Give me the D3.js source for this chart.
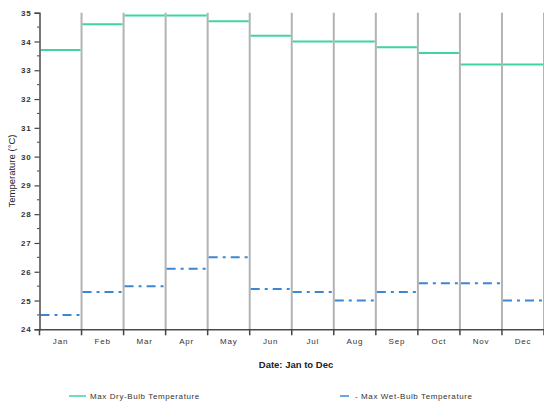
<!DOCTYPE html>
<html>
<head>
<meta charset="utf-8">
<script src="https://cdn.jsdelivr.net/npm/d3@7"></script>
<style>
  html, body { margin: 0; padding: 0; background: #fff; }
  svg { display: block; font-family: "Liberation Sans", Arial, sans-serif; }
</style>
</head>
<body>
<svg id="chart" width="544" height="403"></svg>
<script>
// Monthly maximum temperatures (°C)
const months = ["Jan", "Feb", "Mar", "Apr", "May", "Jun", "Jul", "Aug", "Sep", "Oct", "Nov", "Dec"];
const maxDryBulb = [33.7, 34.6, 34.9, 34.9, 34.7, 34.2, 34.0, 34.0, 33.8, 33.6, 33.2, 33.2];
const maxWetBulb = [24.5, 25.3, 25.5, 26.1, 26.5, 25.4, 25.3, 25.0, 25.3, 25.6, 25.6, 25.0];
const yTicks = [24, 25, 26, 27, 28, 29, 30, 31, 32, 33, 34, 35];
const seriesNames = ["Max Dry-Bulb Temperature", "- Max Wet-Bulb Temperature"];

const svg = d3.select("#chart");
const plotLeft = 39.5, plotRight = 544, plotTop = 12.7, plotBottom = 329.3;

const x = d3.scaleBand().domain(months).range([plotLeft, plotRight]).padding(0);
const y = d3.scaleLinear().domain([24, 35]).range([plotBottom, plotTop]);

const dryColor = "#3fd3a6";
const wetColor = "#3b87d6";
const wetDash = "9,5,3,5";

// vertical separators between months
svg.append("g").selectAll("line")
  .data(months)
  .join("line")
  .attr("x1", d => x(d) + x.bandwidth())
  .attr("x2", d => x(d) + x.bandwidth())
  .attr("y1", y(35))
  .attr("y2", y(24))
  .attr("stroke", "#b3b3b3")
  .attr("stroke-width", 2);

// step segments, one per month
function steps(values, color, dash) {
  svg.append("g").selectAll("line")
    .data(values)
    .join("line")
    .attr("x1", (d, i) => x(months[i]) + 1)
    .attr("x2", (d, i) => x(months[i]) + x.bandwidth() - 1)
    .attr("y1", d => y(d))
    .attr("y2", d => y(d))
    .attr("stroke", color)
    .attr("stroke-width", 2)
    .attr("stroke-dasharray", dash);
}
steps(maxDryBulb, dryColor, null);
steps(maxWetBulb, wetColor, wetDash);

// y axis with half-degree minor ticks
const yAxis = svg.append("g").attr("transform", `translate(${plotLeft},0)`);
yAxis.call(d3.axisLeft(y).tickValues(yTicks).tickSize(5).tickPadding(3).tickFormat(d3.format("d")));
yAxis.append("g").selectAll("line")
  .data(d3.range(24.5, 35, 1))
  .join("line")
  .attr("x1", -2.5).attr("x2", 0)
  .attr("y1", d => y(d)).attr("y2", d => y(d))
  .attr("stroke", "#444").attr("stroke-width", 1);

// x axis with ticks at month boundaries
const xAxis = svg.append("g").attr("transform", `translate(0,${plotBottom})`);
xAxis.call(d3.axisBottom(x).tickSize(0).tickPadding(9));
xAxis.append("g").selectAll("line")
  .data([plotLeft].concat(months.map(m => x(m) + x.bandwidth())))
  .join("line")
  .attr("x1", d => d).attr("x2", d => d)
  .attr("y1", 0).attr("y2", 6)
  .attr("stroke", "#444").attr("stroke-width", 1.5);

[yAxis, xAxis].forEach(a => {
  a.select(".domain").attr("stroke", "#4a4a4a").attr("stroke-width", 1.5);
  a.selectAll(".tick line").attr("stroke", "#444").attr("stroke-width", 1.2);
  a.selectAll(".tick text")
    .attr("fill", "#333")
    .style("font-size", "8px")
    .style("letter-spacing", "0.8px");
});
yAxis.selectAll(".tick text").style("font-weight", "bold");

// axis titles
svg.append("text")
  .attr("transform", `translate(15,${(plotTop + plotBottom) / 2}) rotate(-90)`)
  .attr("text-anchor", "middle")
  .attr("fill", "#222")
  .style("font-size", "9.5px")
  .text("Temperature (°C)");

svg.append("text")
  .attr("x", 296)
  .attr("y", 368)
  .attr("text-anchor", "middle")
  .attr("fill", "#222")
  .style("font-size", "9.5px")
  .style("font-weight", "bold")
  .text("Date: Jan to Dec");

// legend
const legend = [
  { name: seriesNames[0], color: dryColor, x: 69, dash: null, w: 17 },
  { name: seriesNames[1], color: wetColor, x: 340, dash: "9,100", w: 10 }
];
const lg = svg.append("g").selectAll("g").data(legend).join("g");
lg.append("line")
  .attr("x1", d => d.x).attr("x2", d => d.x + d.w)
  .attr("y1", 396).attr("y2", 396)
  .attr("stroke", d => d.color).attr("stroke-width", 1.5)
  .attr("stroke-dasharray", d => d.dash);
lg.append("text")
  .attr("x", d => d.x + (d.dash ? 15 : 21))
  .attr("y", 399)
  .attr("fill", "#333")
  .style("font-size", "8px")
  .style("letter-spacing", "0.6px")
  .text(d => d.name);
</script>
</body>
</html>
